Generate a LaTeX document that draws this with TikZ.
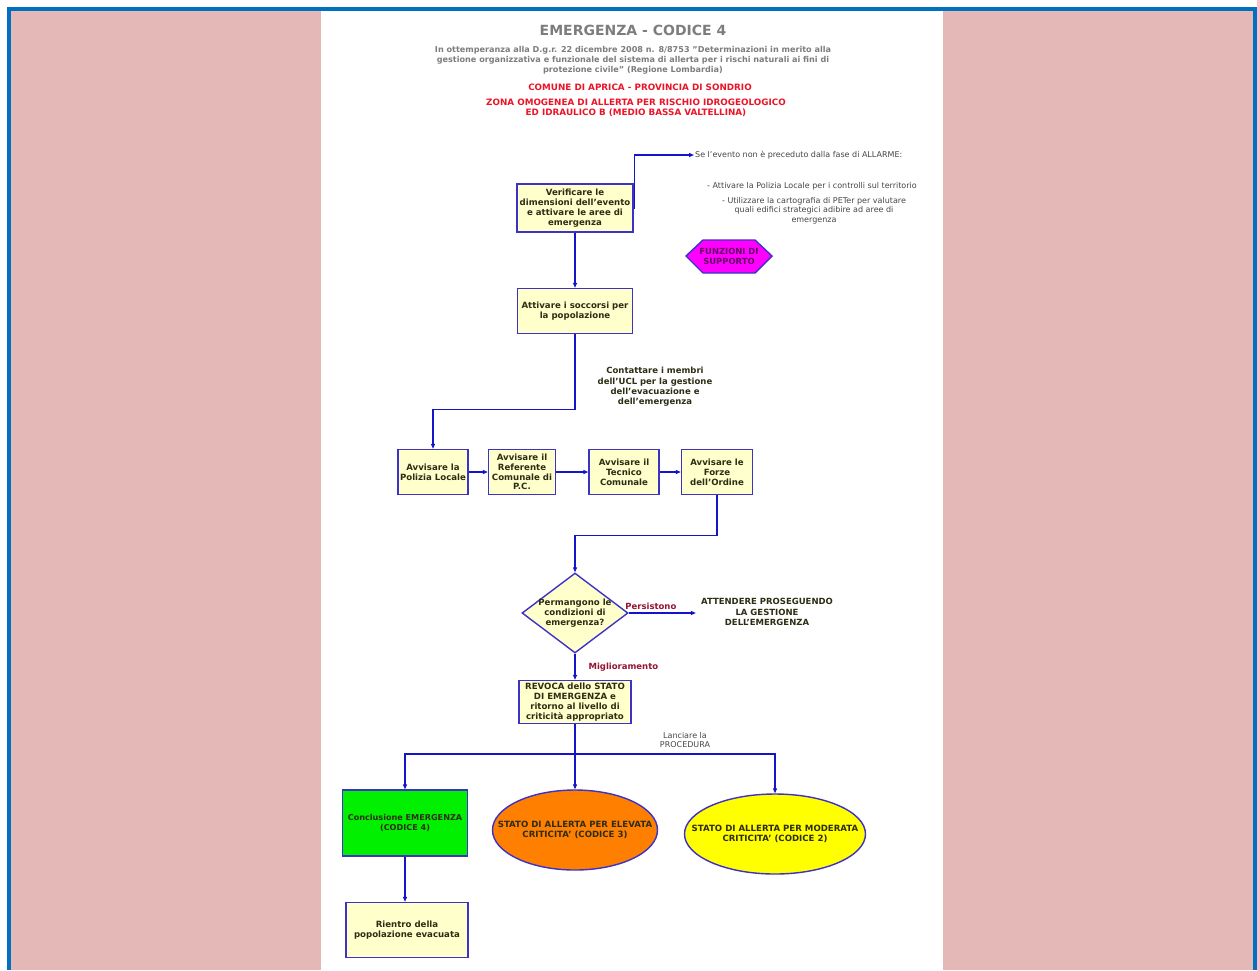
\documentclass[tikz,border=0pt]{standalone}
\usepackage{fontspec}
\setmainfont{DejaVu Sans}
\usetikzlibrary{positioning,arrows.meta,shapes.geometric,calc}
\definecolor{FrameBlue}{RGB}{0,112,192}
\definecolor{SidePink}{RGB}{229,184,184}
\definecolor{BoxYellow}{RGB}{255,255,204}
\definecolor{EdgeBlue}{RGB}{60,50,200}
\definecolor{LineBlue}{RGB}{20,20,200}
\definecolor{TitleGrey}{RGB}{125,125,125}
\definecolor{AlertRed}{RGB}{235,20,40}
\definecolor{LabelRed}{RGB}{150,20,50}
\definecolor{TextDark}{RGB}{45,45,20}
\definecolor{NoteGrey}{RGB}{70,70,70}
\definecolor{SupportMagenta}{RGB}{255,0,255}
\definecolor{SupportText}{RGB}{100,0,100}
\definecolor{HighOrange}{RGB}{255,128,0}
\definecolor{ModYellow}{RGB}{255,255,0}
\definecolor{CloseGreen}{RGB}{0,240,0}
\newcommand{\fsz}[2]{\fontsize{#1}{#2}\selectfont}
\tikzset{
  flow/.style={-{Triangle[length=5pt,width=4pt]},line width=1.1pt,draw=LineBlue},
  link/.style={line width=1.1pt,draw=LineBlue},
  box/.style={draw=EdgeBlue,fill=BoxYellow,line width=1.4pt,align=center,
    text=TextDark,font=\fsz{8.6}{9.8}\bfseries,inner sep=1pt},
  greenbox/.style={box,fill=CloseGreen,font=\fsz{8.1}{10.2}\bfseries},
  decision/.style={diamond,draw=EdgeBlue,fill=BoxYellow,line width=1.4pt,
    minimum width=106pt,minimum height=80pt,inner sep=0pt},
  oval/.style={ellipse,draw=EdgeBlue,line width=1.4pt,inner sep=0pt},
  inner/.style={align=center,text=TextDark,font=\fsz{8.6}{9.8}\bfseries,inner sep=0pt},
  note/.style={align=center,text=NoteGrey,font=\fsz{8}{9.6},inner sep=1pt},
  boldnote/.style={align=center,text=TextDark,font=\fsz{8.5}{10.4}\bfseries,inner sep=1pt},
  tag/.style={text=LabelRed,font=\fsz{8.5}{9}\bfseries,inner sep=1pt}
}
\begin{document}
\begin{tikzpicture}[x=1pt,y=-1pt]
  \useasboundingbox (0,0) rectangle (1257,970);
  % page and frame
  \fill[white] (0,0) rectangle (1257,970);
  \fill[SidePink] (11,11) rectangle (321,970);
  \fill[SidePink] (943,11) rectangle (1253,970);
  \fill[FrameBlue] (7,7) rectangle (1257,11);
  \fill[FrameBlue] (7,7) rectangle (11,970);
  \fill[FrameBlue] (1253,7) rectangle (1257,970);

  % heading
  \node[text=TitleGrey,font=\fsz{14}{16}\bfseries] (title) at (633,30) {EMERGENZA - CODICE 4};
  \node[align=center,text=TitleGrey,font=\fsz{8.1}{10}\bfseries] (decree) at (633,60)
    {In ottemperanza alla D.g.r. 22 dicembre 2008 n. 8/8753 "Determinazioni in merito alla\\
     gestione organizzativa e funzionale del sistema di allerta per i rischi naturali ai fini di\\
     protezione civile" (Regione Lombardia)};
  \node[text=AlertRed,font=\fsz{8.8}{10.5}\bfseries] (town) at (640,87) {COMUNE DI APRICA - PROVINCIA DI SONDRIO};
  \node[align=center,text=AlertRed,font=\fsz{8.8}{10.5}\bfseries] (zone) at (636,108)
    {ZONA OMOGENEA DI ALLERTA PER RISCHIO IDROGEOLOGICO\\ED IDRAULICO B (MEDIO BASSA VALTELLINA)};

  % first steps
  \node[box,minimum width=116pt,minimum height=48pt] (verify) at (575,208)
    {Verificare le\\dimensioni dell'evento\\e attivare le aree di\\emergenza};
  \node[note,anchor=west] (ifnot) at (694,155) {Se l'evento non è preceduto dalla fase di ALLARME:};
  \node[note,anchor=west] (police_note) at (706,186) {- Attivare la Polizia Locale per i controlli sul territorio};
  \node[note,anchor=north] (map_note) at (814,196)
    {- Utilizzare la cartografia di PETer per valutare\\quali edifici strategici adibire ad aree di\\emergenza};
  \draw[flow] (verify.east) -- ++(1,0) |- (ifnot.west);

  \draw[draw=EdgeBlue,fill=SupportMagenta,line width=1.4pt]
    (686,256) -- (703,240) -- (755,240) -- (772,256) -- (755,273) -- (703,273) -- cycle;
  \node[text=SupportText,align=center,font=\fsz{8.4}{10}\bfseries] (support) at (729,256)
    {FUNZIONI DI\\SUPPORTO};

  \node[box,minimum width=115pt,minimum height=45pt] (rescue) at (575,311)
    {Attivare i soccorsi per\\la popolazione};
  \draw[flow] (verify.south) -- (rescue.north);

  \node[boldnote] (contact) at (655,387)
    {Contattare i membri\\dell'UCL per la gestione\\dell'evacuazione e\\dell'emergenza};

  % row of warnings
  \node[box,minimum width=70pt,minimum height=45pt] (police) at (433,472) {Avvisare la\\Polizia Locale};
  \node[box,minimum width=67pt,minimum height=45pt] (referent) at (522,472) {Avvisare il\\Referente\\Comunale di\\P.C.};
  \node[box,minimum width=70pt,minimum height=45pt] (technician) at (624,472) {Avvisare il\\Tecnico\\Comunale};
  \node[box,minimum width=71pt,minimum height=45pt] (forces) at (717,472) {Avvisare le\\Forze\\dell'Ordine};
  \draw[flow] (rescue.south) -- ++(0,75) -| (police.north);
  \draw[flow] (police) -- (referent);
  \draw[flow] (referent) -- (technician);
  \draw[flow] (technician) -- (forces);

  % decision
  \node[decision] (persist) at (575,613) {};
  \node[inner] (persist_text) at (persist.center) {Permangono le\\condizioni di\\emergenza?};
  \draw[flow] (forces.south) -- ++(0,40) -| (persist.north);
  \node[boldnote] (attend) at (767,612) {ATTENDERE PROSEGUENDO\\LA GESTIONE\\DELL'EMERGENZA};
  \draw[flow] (persist.east) -- node[tag,pos=0.33,above=2pt] (persist_tag) {Persistono}
    ($(persist.east -| attend.west)+(-4,0)$);

  \node[box,minimum width=112pt,minimum height=43pt] (revoke) at (575,702)
    {REVOCA dello STATO\\DI EMERGENZA e\\ritorno al livello di\\criticità appropriato};
  \draw[flow] (persist.south) -- node[tag,right=12pt] (better_tag) {Miglioramento} (revoke.north);

  % outcomes
  \coordinate (split) at (575,754);
  \node[note] (launch) at (685,740) {Lanciare la\\PROCEDURA};
  \node[greenbox,minimum width=125pt,minimum height=66pt] (close) at (405,823)
    {Conclusione EMERGENZA\\(CODICE 4)};
  \node[oval,fill=HighOrange,minimum width=165pt,minimum height=80pt] (high) at (575,830) {};
  \node[inner] (high_text) at (high.center) {STATO DI ALLERTA PER ELEVATA\\CRITICITA' (CODICE 3)};
  \node[oval,fill=ModYellow,minimum width=181pt,minimum height=80pt] (moderate) at (775,834) {};
  \node[inner] (moderate_text) at (moderate.center) {STATO DI ALLERTA PER MODERATA\\CRITICITA' (CODICE 2)};
  \draw[link] (revoke.south) -- (split);
  \draw[flow] (split) -| (close.north);
  \draw[flow] (split) -- (high.north);
  \draw[flow] (split) -| (moderate.north);

  \node[box,minimum width=122pt,minimum height=55pt] (return) at (407,930)
    {Rientro della\\popolazione evacuata};
  \draw[flow] (close.south) -- (close.south |- return.north);
\end{tikzpicture}
\end{document}
